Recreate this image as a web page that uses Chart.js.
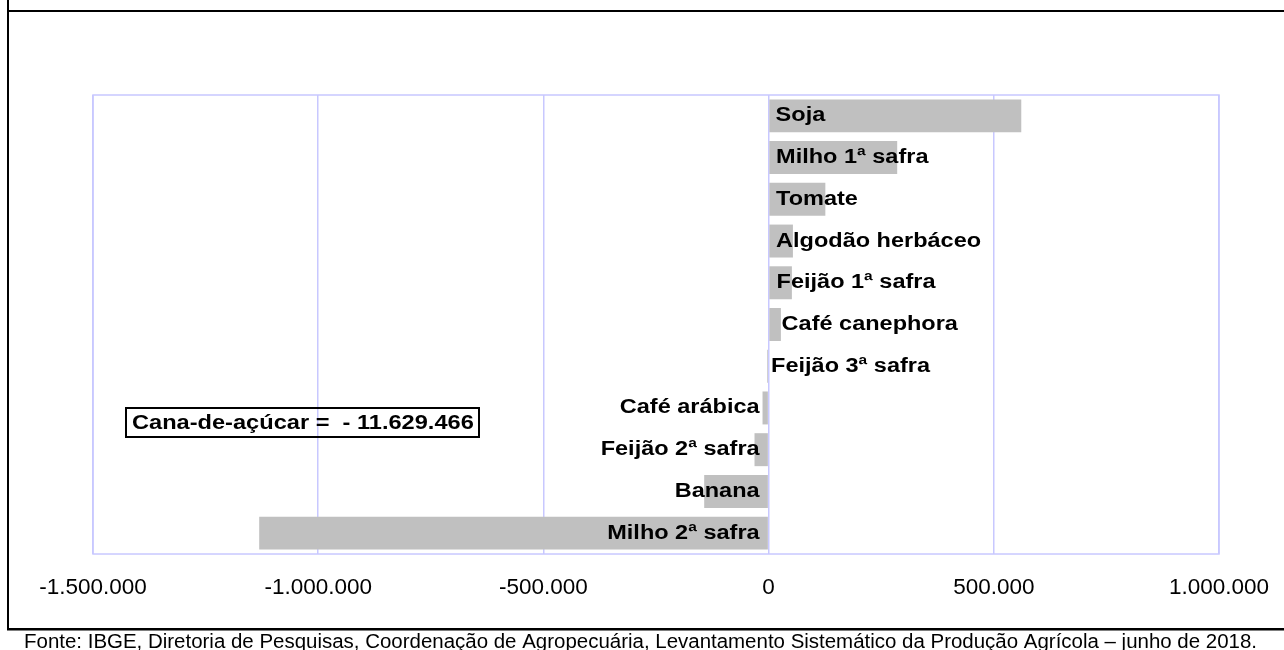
<!DOCTYPE html>
<html><head><meta charset="utf-8">
<script src="https://cdn.jsdelivr.net/npm/chart.js@4.4.1/dist/chart.umd.min.js"></script>
<style>html,body{margin:0;padding:0;background:#fff;} canvas{display:block}</style>
</head><body>
<canvas id="c" width="1284" height="650"></canvas>
<script>
const categories = ["Soja","Milho 1ª safra","Tomate","Algodão herbáceo","Feijão 1ª safra","Café canephora","Feijão 3ª safra","Café arábica","Feijão 2ª safra","Banana","Milho 2ª safra"];
const variation = [561000, 285500, 126000, 54000, 51700, 27300, -3300, -13500, -31300, -143000, -1131000];
const tickValues = [-1500000, -1000000, -500000, 0, 500000, 1000000];
const noteText = "Cana-de-açúcar =  - 11.629.466";
const sourceText = "Fonte: IBGE, Diretoria de Pesquisas, Coordenação de Agropecuária, Levantamento Sistemático da Produção Agrícola – junho de 2018.";

function fmt(v){
  const s = String(Math.abs(v)).replace(/\B(?=(\d{3})+(?!\d))/g, '.');
  return (v < 0 ? '-' : '') + s;
}
function drawStretched(ctx, text, x, y, align, sx){
  ctx.save();
  ctx.translate(x, y);
  ctx.scale(sx, 1);
  ctx.textAlign = align;
  ctx.textBaseline = 'alphabetic';
  ctx.fillText(text, 0, 0);
  ctx.restore();
}

const GRID = '#c8c8ff';

const framePlugin = {
  id: 'frame',
  beforeDatasetsDraw(chart){
    const {ctx, chartArea: a} = chart;
    ctx.save();
    ctx.strokeStyle = GRID;
    ctx.lineWidth = 1.5;
    ctx.strokeRect(a.left, a.top, a.right - a.left, a.bottom - a.top);
    ctx.restore();
  },
  afterDraw(chart){
    const ctx = chart.ctx;
    ctx.save();
    ctx.fillStyle = '#000';
    ctx.fillRect(7, 0, 2, 630);
    ctx.fillRect(7, 10, 1277, 2);
    ctx.fillRect(7, 628, 1277, 2.5);
    // note box
    ctx.lineWidth = 2;
    ctx.strokeStyle = '#000';
    ctx.strokeRect(126, 408, 353, 29);
    ctx.font = 'bold 20px "Liberation Sans", Arial, sans-serif';
    drawStretched(ctx, noteText, 132, 428.5, 'left', 1.18);
    // source
    ctx.font = '20px "Liberation Sans", Arial, sans-serif';
    const w = ctx.measureText(sourceText).width;
    drawStretched(ctx, sourceText, 24, 648, 'left', 1233 / w);
    ctx.restore();
  }
};

const labelPlugin = {
  id: 'barLabels',
  afterDatasetsDraw(chart, args, opts){
    const ctx = chart.ctx;
    const xs = chart.scales.x;
    const zero = xs.getPixelForValue(0);
    const meta = chart.getDatasetMeta(0);
    ctx.save();
    ctx.fillStyle = '#000';
    ctx.font = 'bold 20px "Liberation Sans", Arial, sans-serif';
    meta.data.forEach((bar, i) => {
      const v = variation[i];
      const y = bar.y + 5.5;
      if (v > -5000) {
        drawStretched(ctx, categories[i], zero + opts.gaps[i], y, 'left', 1.175);
      } else {
        drawStretched(ctx, categories[i], zero - 9, y, 'right', 1.175);
      }
    });
    ctx.restore();
  }
};

new Chart(document.getElementById('c'), {
  type: 'bar',
  data: {
    labels: categories,
    datasets: [{
      data: variation,
      backgroundColor: '#c0c0c0',
      borderWidth: 0,
      barPercentage: 0.79,
      categoryPercentage: 1
    }]
  },
  options: {
    indexAxis: 'y',
    responsive: false,
    animation: false,
    events: [],
    layout: { padding: { left: 93, right: 65, top: 95, bottom: 0 } },
    plugins: {
      legend: { display: false },
      tooltip: { enabled: false },
      barLabels: { gaps: [7, 7.5, 7.5, 7.5, 8, 13, 2.5] }
    },
    scales: {
      x: {
        min: -1500000,
        max: 1000000,
        afterBuildTicks(scale){ scale.ticks = tickValues.map(v => ({ value: v })); },
        afterFit(scale){ scale.height = 96; scale.paddingLeft = 0; scale.paddingRight = 0; },
        grid: { color: GRID, lineWidth: 1.5, drawTicks: false },
        border: { display: false },
        ticks: {
          padding: 20,
          color: '#000',
          font: { family: '"Liberation Sans", Arial, sans-serif', size: 22.5 },
          maxRotation: 0,
          autoSkip: false,
          callback: (v) => fmt(v)
        }
      },
      y: {
        display: false
      }
    }
  },
  plugins: [framePlugin, labelPlugin]
});
</script>
</body></html>
